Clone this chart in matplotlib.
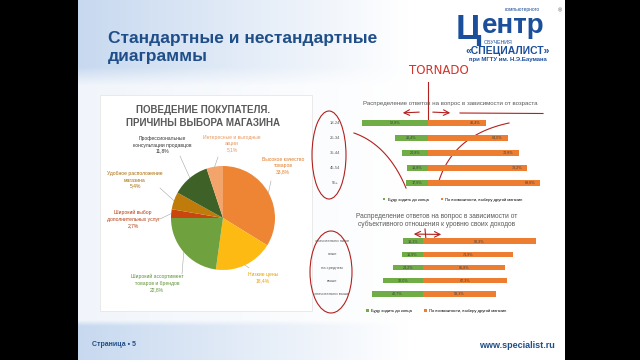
import matplotlib
matplotlib.use("Agg")
import matplotlib.pyplot as plt
from matplotlib.patches import Rectangle, Ellipse
import numpy as np

plt.rcParams['font.family'] = ['Liberation Sans', 'DejaVu Sans']

# --- pie data
reasons = ["Высокое качество\nтоваров", "Низкие цены", "Широкий ассортимент\nтоваров и брендов",
           "Широкий выбор\nдополнительных услуг", "Удобное расположение\nмагазина",
           "Профессиональные\nконсультации продавцов", "Интересные и выгодные\nакции"]
shares = [33.8, 18.4, 22.8, 2.7, 5.4, 11.8, 5.1]
pie_colors = ['#EE8535', '#FDBA12', '#6FA13E', '#C9470F', '#BF7C0A', '#3E6127', '#F3A46B']
label_colors = ['#E07A26', '#E8A200', '#5E9334', '#B33D0C', '#A86B08', '#333333', '#E9975C']

# --- tornado data
series = ["Буду ходить до конца", "По возможности, выберу другой магазин"]
ages = ["18-24", "25-34", "35-44", "45-54", "55+"]
age_stay = [52.8, 26.4, 20.8, 16.8, 17.6]
age_switch = [46.4, 64.0, 72.8, 79.2, 89.6]

income = ["значительно ниже", "ниже", "на среднем", "выше", "значительно выше"]
inc_stay = [16.1, 16.9, 24.2, 32.0, 40.7]
inc_switch = [90.3, 71.9, 65.8, 67.3, 58.3]

W, H = 640, 360
fig = plt.figure(figsize=(6.4, 3.6), dpi=100, facecolor='black')
bg = fig.add_axes([0, 0, 1, 1])
bg.axis('off')

# slide background gradient
X, Y = np.meshgrid(np.arange(78, 565) + 0.5, np.arange(0, 360) + 0.5)
lb = np.array([0.78, 0.85, 0.94])
wx = np.clip(1 - (X - 78) / 330, 0, 1)
ft = np.clip((92 - Y) / 25, 0, 1)
fb = np.clip((Y - 318) / 8, 0, 1)
w = wx * np.maximum(np.maximum(ft, fb), 0.25)
grad = 1 - w[..., None] * (1 - lb)
bg.imshow(grad, extent=[78, 565, 360, 0], aspect='auto', zorder=0)
bg.set_xlim(0, W)
bg.set_ylim(H, 0)


def px_axes(x0, y0, x1, y1):
    return fig.add_axes([x0 / W, 1 - y1 / H, (x1 - x0) / W, (y1 - y0) / H])


navy = '#1F4E88'
bg.text(108, 38, "Стандартные и нестандартные", fontsize=12.5, fontweight='bold', color=navy, va='center')
bg.text(108, 56, "диаграммы", fontsize=12.5, fontweight='bold', color=navy, va='center')

# logo
logo = '#1B4F9C'
bg.text(456, 29, "Ц", fontsize=25, fontweight='bold', color=logo, va='center')
bg.text(482, 26, "ентр", fontsize=20, fontweight='bold', color=logo, va='center')
bg.text(505, 10, "компьютерного", fontsize=3.5, color=logo, va='center')
bg.text(484, 43, "ОБУЧЕНИЯ", fontsize=3.8, color=logo, va='center')
bg.text(508, 51, "«СПЕЦИАЛИСТ»", fontsize=7.5, fontweight='bold', color=logo, va='center', ha='center')
bg.text(508, 60, "при МГТУ им. Н.Э.Баумана", fontsize=4.3, fontweight='bold', color=logo, va='center', ha='center')
bg.text(560, 11, "®", fontsize=4, color='#555555', va='center', ha='center')

# footer
bg.text(92, 345, "Страница • 5", fontsize=5, fontweight='bold', color=navy, va='center')
bg.text(555, 345, "www.specialist.ru", fontsize=6.5, fontweight='bold', color=navy, va='center', ha='right')

# pie panel
bg.add_patch(Rectangle((100, 95), 212, 216, facecolor='white', edgecolor='#E3E3E3', lw=0.5, zorder=1))
bg.text(203, 110, "ПОВЕДЕНИЕ ПОКУПАТЕЛЯ.", fontsize=7, fontweight='bold', color='#595959', ha='center', va='center')
bg.text(203, 123, "ПРИЧИНЫ ВЫБОРА МАГАЗИНА", fontsize=7, fontweight='bold', color='#595959', ha='center', va='center')

cx, cy, R = 223, 218, 52
pax = px_axes(cx - R, cy - R, cx + R, cy + R)
wedges, _ = pax.pie(shares, colors=pie_colors, startangle=90, counterclock=False, radius=1,
                    wedgeprops=dict(linewidth=0))
pax.set_xlim(-1, 1)
pax.set_ylim(-1, 1)
pax.axis('off')

label_pos = [(283, 166), (263, 278), (157, 283), (133, 219), (135, 180), (162, 145), (232, 144)]
anchor_pos = [(271, 181), (249, 268), (182, 274), (160, 219), (160, 188), (180, 156), (218, 157)]
for wdg, name, val, (lx, ly), (ax_, ay_), col in zip(wedges, reasons, shares, label_pos, anchor_pos, label_colors):
    ang = np.deg2rad((wdg.theta1 + wdg.theta2) / 2)
    ex, ey = cx + R * np.cos(ang), cy - R * np.sin(ang)
    bg.plot([ax_, ex], [ay_, ey], color='#A6A6A6', lw=0.4, zorder=2)
    bg.text(lx, ly, name + "\n" + f"{val:.1f}%".replace('.', ','), fontsize=3.6, color=col,
            ha='center', va='center', linespacing=1.3, zorder=3)


def tornado(box, center, stay, switch, cats, label_x, bar_h, legend_xy, mode):
    x0, y0, x1, y1 = box
    ax = px_axes(x0, y0, x1, y1)
    scale = 1.25
    ys = np.arange(len(cats))
    b1 = ax.barh(ys, -np.array(stay), height=bar_h, color='#70AD47')
    b2 = ax.barh(ys, switch, height=bar_h, color='#ED7D31')
    for i, (s, o) in enumerate(zip(stay, switch)):
        ax.text(-s / 2, i, f"{s:.1f}%".replace('.', ','), fontsize=2.7, color='#404040', ha='center', va='center')
        ox = o - 4 if mode == 'end' else o / 2
        ha = 'right' if mode == 'end' else 'center'
        ax.text(ox, i, f"{o:.1f}%".replace('.', ','), fontsize=2.7, color='#404040', ha=ha, va='center')
        ax.text(label_x, i, cats[i], fontsize=3, color='#595959', ha='center', va='center', clip_on=False)
    ax.set_xlim(-(center - x0) / scale, (x1 - center) / scale)
    n = len(cats)
    ax.set_ylim(n - 0.5, -0.5)
    ax.axis('off')
    ax.legend([b1, b2], series, loc='center', bbox_to_anchor=legend_xy, ncol=2, fontsize=3, frameon=False,
              handlelength=0.6, handleheight=0.6, columnspacing=3, handletextpad=0.5)
    return ax


# chart 1: age
bg.text(450, 104, "Распределение ответов на вопрос в зависимости от возраста", fontsize=4.4,
        color='#595959', ha='center', va='center')
tornado((350, 115.5, 560, 190.5), 428, age_stay, age_switch, ages, -74.4, 0.37, (0.49, -0.12), 'end')

# chart 2: income
bg.text(437, 216, "Распределение ответов на вопрос в зависимости от", fontsize=4.8,
        color='#595959', ha='center', va='center')
bg.text(437, 224.5, "субъективного отношения к уровню своих доходов", fontsize=4.8,
        color='#595959', ha='center', va='center')
tornado((350, 234.5, 560, 300.5), 423, inc_stay, inc_switch, income, -72.8, 0.4, (0.41, -0.16), 'center')

# handwritten marks
red = '#B3211E'
bg.text(439, 71, "TORNADO", fontsize=8.5, color='#D0342C', ha='center', va='center', fontfamily='DejaVu Sans')
bg.plot([428, 428], [82, 121], color=red, lw=0.8)
bg.annotate('', xy=(400, 113), xytext=(422, 112), arrowprops=dict(arrowstyle='->', color=red, lw=0.8))
bg.annotate('', xy=(453, 113), xytext=(430, 112), arrowprops=dict(arrowstyle='->', color=red, lw=0.8))
bg.plot([460, 543], [113, 113.5], color=red, lw=0.8)
bg.add_patch(Ellipse((329, 155), 34, 88, fill=False, edgecolor=red, lw=0.8))
bg.add_patch(Ellipse((331, 272), 42, 82, fill=False, edgecolor=red, lw=0.8))
t = np.linspace(0, 1, 30)
for p0, p1, p2 in [((354, 133), (388, 145), (406, 188)), ((438, 184), (452, 135), (509, 123))]:
    bx = (1 - t) ** 2 * p0[0] + 2 * (1 - t) * t * p1[0] + t ** 2 * p2[0]
    by = (1 - t) ** 2 * p0[1] + 2 * (1 - t) * t * p1[1] + t ** 2 * p2[1]
    bg.plot(bx, by, color=red, lw=0.8)
bg.annotate('', xy=(411, 234), xytext=(444, 234.5), arrowprops=dict(arrowstyle='<->', color=red, lw=0.8))
bg.plot([425, 426], [229, 240], color=red, lw=0.8)

fig.savefig('out.png', dpi=100, facecolor='black')
